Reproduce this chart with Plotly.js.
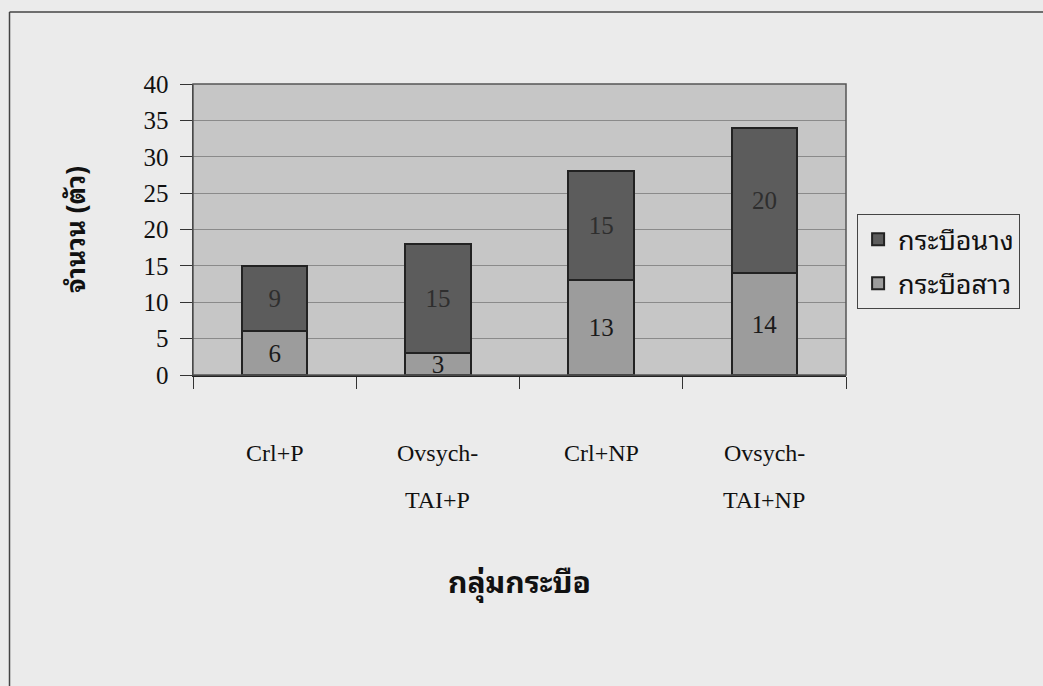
<!DOCTYPE html>
<html>
<head>
<meta charset="utf-8">
<script src="https://cdn.plot.ly/plotly-3.0.1.min.js"></script>
<style>
  html, body { margin: 0; padding: 0; background: #ebebeb; }
  #chart { width: 1043px; height: 686px; }
</style>
</head>
<body>
<div id="chart"></div>
<script>
// ---- data ----
const categories = ["Crl+P", "Ovsych-TAI+P", "Crl+NP", "Ovsych-TAI+NP"];
const labelLine1 = ["Crl+P", "Ovsych-", "Crl+NP", "Ovsych-"];
const labelLine2 = ["", "TAI+P", "", "TAI+NP"];
const heifers = [6, 3, 13, 14];      // กระบือสาว
const cows = [9, 15, 15, 20];        // กระบือนาง
const seriesNames = ["กระบือสาว", "กระบือนาง"];
const yTicks = [0, 5, 10, 15, 20, 25, 30, 35, 40];
const xTitle = "กลุ่มกระบือ";
const yTitle = "จำนวน (ตัว)";

const thaiFont = '"Noto Sans Thai Looped", "Noto Serif Thai", Loma, Garuda, "Noto Sans Thai", "Noto Sans", sans-serif';
const serifFont = '"Liberation Serif", "Times New Roman", serif';

const traces = [
  {
    type: "bar", name: seriesNames[0], x: categories, y: heifers,
    text: heifers.map(String), textposition: "inside", insidetextanchor: "middle",
    textangle: 0, constraintext: "none",
    textfont: { family: serifFont, size: 25, color: "#1a1a1a" },
    marker: { color: "#9c9c9c", line: { color: "#222", width: 2 } },
    width: 0.4, legendgroup: "heifer", legendrank: 2, hoverinfo: "y+name"
  },
  {
    type: "bar", name: seriesNames[1], x: categories, y: cows,
    text: cows.map(String), textposition: "inside", insidetextanchor: "middle",
    textangle: 0, constraintext: "none",
    textfont: { family: serifFont, size: 25, color: "#2e2e2e" },
    marker: { color: "#5c5c5c", line: { color: "#222", width: 2 } },
    width: 0.4, legendgroup: "cow", legendrank: 1, hoverinfo: "y+name"
  }
];

const annotations = [];
categories.forEach((c, i) => {
  annotations.push({
    x: c, xref: "x", y: -0.268, yref: "paper", text: labelLine1[i],
    showarrow: false, yanchor: "middle",
    font: { family: serifFont, size: 24, color: "#111" }
  });
  if (labelLine2[i]) {
    annotations.push({
      x: c, xref: "x", y: -0.43, yref: "paper", text: labelLine2[i],
      showarrow: false, yanchor: "middle",
      font: { family: serifFont, size: 24, color: "#111" }
    });
  }
});

const layout = {
  width: 1043, height: 686,
  margin: { l: 193, r: 197, t: 84, b: 311, autoexpand: false },
  paper_bgcolor: "#ebebeb",
  plot_bgcolor: "#c6c6c6",
  barmode: "stack",
  showlegend: true,
  legend: {
    x: 1.017, xanchor: "left", y: 0.553, yanchor: "top",
    bgcolor: "rgba(0,0,0,0)", bordercolor: "#444", borderwidth: 1,
    font: { family: thaiFont, size: 27, color: "#111" },
    traceorder: "grouped", tracegroupgap: 6, itemwidth: 30
  },
  xaxis: {
    type: "category",
    showticklabels: false,
    tickson: "boundaries", ticks: "outside", ticklen: 12, tickcolor: "#333",
    showline: true, linecolor: "#222", linewidth: 1.5,
    showgrid: false, zeroline: false,
    title: { text: xTitle, standoff: 196, font: { family: thaiFont, size: 30, color: "#111", weight: "bold" } },
    fixedrange: true
  },
  yaxis: {
    range: [0, 40], tickvals: yTicks,
    ticks: "outside", ticklen: 12, tickcolor: "#333",
    ticklabelstandoff: 6,
    tickfont: { family: serifFont, size: 25, color: "#111" },
    showline: true, linecolor: "#222", linewidth: 1.5,
    gridcolor: "#8a8a8a", gridwidth: 1, zeroline: false,
    title: { text: yTitle, standoff: 50, font: { family: thaiFont, size: 26, color: "#111", weight: "bold" } },
    fixedrange: true
  },
  annotations: annotations,
  shapes: [
    { type: "rect", xref: "paper", yref: "paper", x0: 0, x1: 1, y0: 0, y1: 1,
      line: { color: "#555", width: 1.5 }, fillcolor: "rgba(0,0,0,0)", layer: "above" },
    { type: "line", xref: "paper", yref: "paper", x0: -0.281, x1: -0.281, y0: -1.2, y1: 1.247,
      line: { color: "#444", width: 1.5 } },
    { type: "line", xref: "paper", yref: "paper", x0: -0.281, x1: 1.4, y0: 1.247, y1: 1.247,
      line: { color: "#444", width: 1.5 } }
  ]
};

Plotly.newPlot("chart", traces, layout, { displayModeBar: false, staticPlot: true });
</script>
</body>
</html>
